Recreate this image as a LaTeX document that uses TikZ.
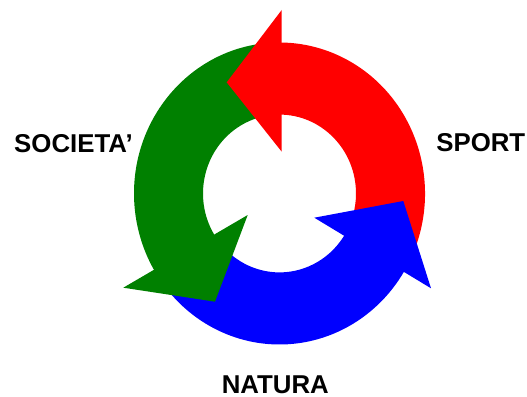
\documentclass[tikz,border=0pt]{standalone}
\usepackage{fontspec}
\setmainfont{Liberation Sans}
\definecolor{cred}{RGB}{255,0,0}
\definecolor{cgreen}{RGB}{0,128,0}
\definecolor{cblue}{RGB}{0,0,255}
\begin{document}
\begin{tikzpicture}[x=1pt,y=-1pt,
  lbl/.style={inner sep=0pt,font=\fontsize{25.8}{30}\selectfont\bfseries},
  redfill/.style={fill=cred,draw=none},
  greenfill/.style={fill=cgreen,draw=none},
  bluefill/.style={fill=cblue,draw=none},
  ring/.style={x radius=145.5,y radius=151},
  hole/.style={x radius=76.5,y radius=78.9}]
\useasboundingbox (0,0) rectangle (527,396);
% bodies (y axis points down, so negative angles turn counterclockwise on screen)
\begin{scope}[shift={(279.5,193.5)}]
  \fill[redfill] (28:145.5 and 151) arc[start angle=28,end angle=-93,ring]
    -- (-93:76.5 and 78.9) arc[start angle=-93,end angle=28,hole] -- cycle;
  \fill[greenfill] (-95:145.5 and 151) arc[start angle=-95,end angle=-214,ring]
    -- (-214:76.5 and 78.9) arc[start angle=-214,end angle=-95,hole] -- cycle;
  \fill[bluefill] (-215:145.5 and 151) arc[start angle=-215,end angle=-330,ring]
    -- (-330:76.5 and 78.9) arc[start angle=-330,end angle=-215,hole] -- cycle;
\end{scope}
% arrowheads
\fill[redfill] (281.7,10) -- (226.7,82.3) -- (281.7,151.7) -- cycle;
\fill[greenfill] (123.3,287.7) -- (215,301.7) -- (247.7,215) -- cycle;
\fill[bluefill] (314.3,217.7) -- (403.3,201) -- (431,288.3) -- cycle;
% labels
\node[lbl] (soc) at (73.5,143.3) {SOCIETA’};
\node[lbl] (spo) at (480.8,142.8) {SPORT};
\node[lbl] (nat) at (275.3,384.5) {NATURA};
\end{tikzpicture}
\end{document}
